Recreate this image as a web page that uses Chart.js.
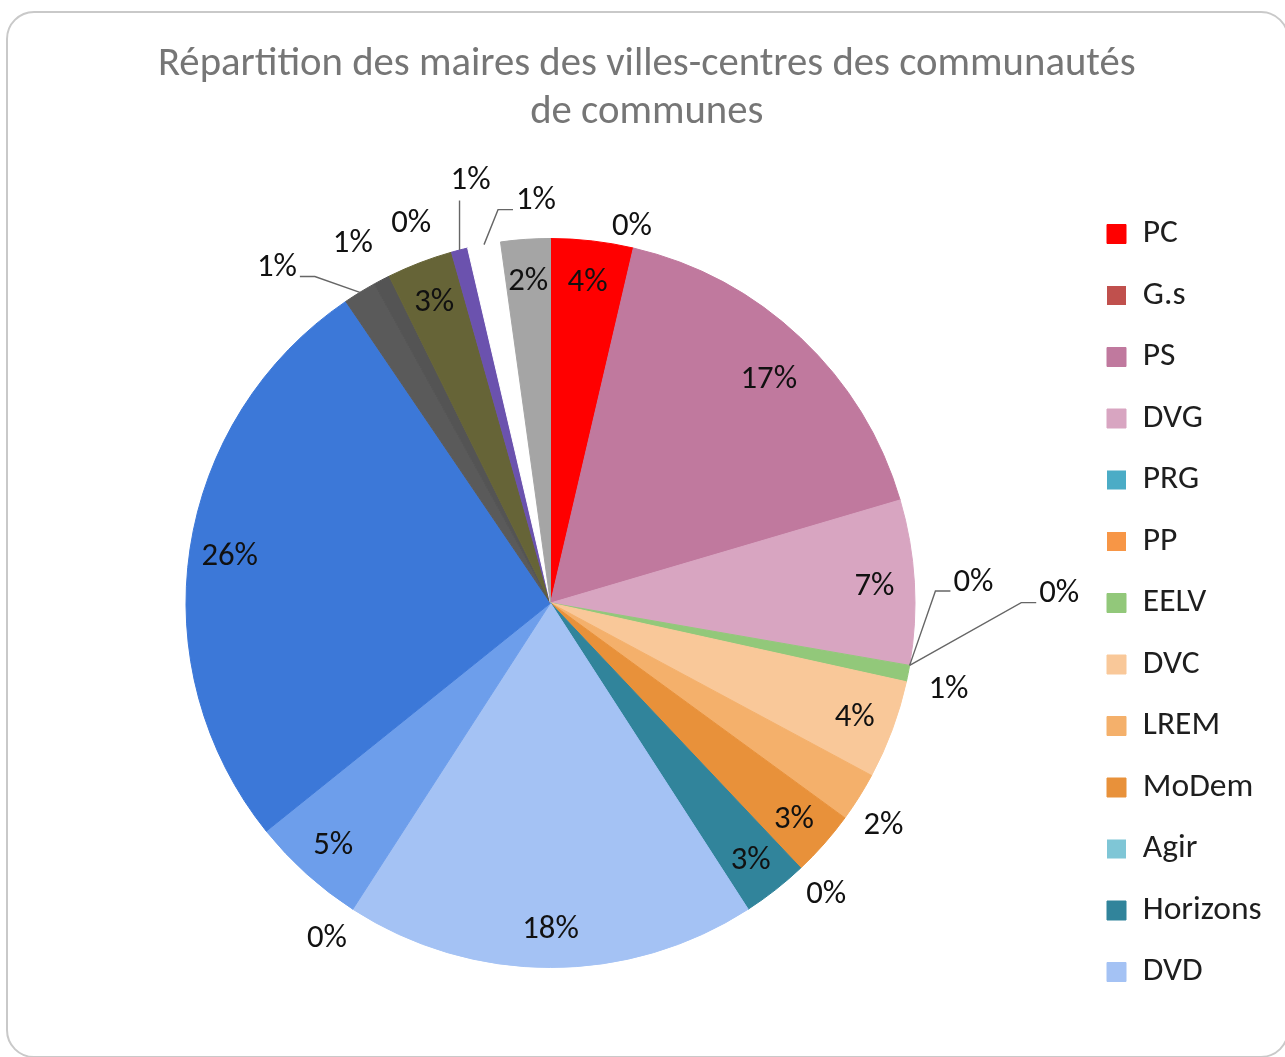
<!DOCTYPE html>
<html>
<head>
<meta charset="utf-8">
<script src="https://cdn.jsdelivr.net/npm/chart.js@4.4.1/dist/chart.umd.min.js"></script>
<style>
  html, body { margin: 0; padding: 0; background: #ffffff; overflow: hidden; width: 1285px; height: 1057px; }
  #card { position: absolute; left: 6px; top: 11px; width: 1283px; height: 1047px; box-sizing: border-box;
          border: 2px solid #c9c9c9; border-radius: 28px; background: #ffffff; }
  #wrap { position: absolute; left: 0; top: 0; width: 1285px; height: 1057px; }
</style>
</head>
<body>
<div id="card"></div>
<div id="wrap"><canvas id="chart" width="1285" height="1057"></canvas></div>
<script>
// ---------------- data ----------------
const titleLines = ['Répartition des maires des villes-centres des communautés', 'de communes'];
const parties = ['PC', 'G.s', 'PS', 'DVG', 'PRG', 'PP', 'EELV', 'DVC', 'LREM', 'MoDem', 'Agir', 'Horizons', 'DVD',
                 'UC', 'UDI', 'LR', 'DLF', 'RN', 'EXD', 'DIV', 'REG', 'SE', 'NC'];
const mayors = [5, 0, 23, 10, 0, 0, 1, 6, 3, 4, 0, 4, 25, 0, 7, 36, 2, 1, 0, 4, 1, 2, 3];
const legendCount = 13; // entries visible in the (cropped) legend

// ---------------- styles ----------------
const sliceColors = ['#FF0000', '#C0504D', '#C0799E', '#D8A5C1', '#4BACC6', '#F79646', '#92C87A', '#F9C899',
                     '#F4B06B', '#E8913A', '#7FC6D6', '#31849B', '#A4C2F4', '#9FC5E8', '#6D9EEB', '#3C78D8',
                     '#5A5A5A', '#545454', '#7F7F7F', '#666437', '#6B52AE', '#FFFFFF', '#A5A5A5'];
// label placement: [angle offset (deg) from slice middle, radius factor, leader]; default is inside
const labelPlacement = {
  1: [-1.0, 1.063],
  2: [0.65, 0.862],
  4: [-12.96, 1.162, 'elbow'],
  5: [-11.14, 1.396, 'elbow'],
  6: [0.8, 1.116],
  8: [1.34, 1.096],
  10: [-0.24, 1.097],
  13: [1.0, 1.101],
  16: [-7.5, 1.192, 'elbow'],
  17: [-1.09, 1.130],
  18: [6.22, 1.114],
  20: [3.79, 1.185, 'vertical'],
  21: [8.46, 1.110, 'elbow']
};
const defaultPlacement = [0, 0.89];

const FAMILY = "Carlito, Lato, 'Noto Sans', sans-serif";
const W = 1285, H = 1057;

// fit font sizes to the reference text widths
const mctx = document.createElement('canvas').getContext('2d');
function textW(text, size) { mctx.font = size + 'px ' + FAMILY; return mctx.measureText(text).width; }
function fitSize(text, target) { return 100 * target / textW(text, 100); }
const titleSize = fitSize(titleLines[0], 978);
const legendSize = fitSize('Horizons', 119);
const labelSize = fitSize('18%', 56.6);

// layout numbers
const pieCx = 550.5;
const rowStep = 61.5;
const boxSize = 19;
const legPad = rowStep - Math.max(legendSize, boxSize);
const boxX = 1107;
const legendLeft = boxX - legPad;
const maxLegText = Math.max(...parties.slice(0, legendCount).map(t => textW(t, legendSize)));
const legendWidth = legPad + boxSize + legendSize / 2 + maxLegText + 10;
const padRight = W - legendLeft - legendWidth;
const padLeft = 2 * pieCx - legendLeft;
const firstRowTop = 234 - Math.max(legendSize, boxSize) / 2;
const colH = legendCount * rowStep;
const legTitleH = 2 * firstRowTop - legPad - H + colH;

const sliceLabelPlugin = {
  id: 'sliceLabels',
  afterDatasetsDraw(chart) {
    const ctx = chart.ctx;
    const meta = chart.getDatasetMeta(0);
    const vals = chart.data.datasets[0].data;
    const total = vals.reduce((a, b) => a + b, 0);
    ctx.save();
    ctx.font = labelSize + 'px ' + FAMILY;
    ctx.textAlign = 'center';
    ctx.textBaseline = 'alphabetic';
    const capH = ctx.measureText('0').actualBoundingBoxAscent;
    meta.data.forEach((arc, i) => {
      const p = arc.getProps(['x', 'y', 'startAngle', 'endAngle', 'outerRadius'], true);
      const mid = (p.startAngle + p.endAngle) / 2;
      const txt = Math.round(vals[i] / total * 100) + '%';
      const place = labelPlacement[i] || defaultPlacement;
      const a = mid + place[0] * Math.PI / 180;
      const r = p.outerRadius * place[1];
      const lx = p.x + Math.cos(a) * r;
      const ly = p.y + Math.sin(a) * r;
      if (place[2]) {
        const ex = p.x + Math.cos(mid) * p.outerRadius;
        const ey = p.y + Math.sin(mid) * p.outerRadius;
        ctx.beginPath();
        ctx.strokeStyle = '#666666';
        ctx.lineWidth = 1.4;
        ctx.moveTo(ex, ey);
        if (place[2] === 'vertical') {
          ctx.lineTo(ex, ly + 22);
        } else {
          const hw = ctx.measureText(txt).width / 2;
          const dir = lx > ex ? -1 : 1;
          const endX = lx + dir * (hw + 3);
          const lineY = ly + 11;
          ctx.lineTo(endX + dir * 15, lineY);
          ctx.lineTo(endX, lineY);
        }
        ctx.stroke();
      }
      ctx.fillStyle = '#111111';
      ctx.fillText(txt, lx, ly + capH / 2);
    });
    ctx.restore();
  }
};

new Chart(document.getElementById('chart'), {
  type: 'pie',
  data: {
    labels: parties,
    datasets: [{
      data: mayors,
      backgroundColor: sliceColors,
      borderColor: sliceColors,
      borderWidth: (c) => (mayors[c.dataIndex] ? 1 : 0),
      hoverOffset: 0,
      hoverBorderWidth: 0,
      offset: 0
    }]
  },
  options: {
    responsive: false,
    animation: false,
    events: [],
    layout: { padding: { left: padLeft, right: padRight, top: 0, bottom: 0 } },
    plugins: {
      title: {
        display: true,
        text: titleLines,
        color: '#767676',
        font: { family: FAMILY, size: titleSize, weight: 'normal', lineHeight: 48 / titleSize },
        padding: { top: 41, bottom: 101 }
      },
      subtitle: {
        display: true,
        position: 'bottom',
        text: ' ',
        font: { family: FAMILY, size: 10, lineHeight: 1 },
        padding: { top: 0, bottom: 79 }
      },
      legend: {
        display: true,
        position: 'right',
        align: 'center',
        title: {
          display: true,
          text: ' ',
          font: { family: FAMILY, size: 10, lineHeight: 1 },
          padding: { top: legTitleH - 10, bottom: 0 }
        },
        labels: {
          boxWidth: boxSize,
          boxHeight: boxSize,
          padding: legPad,
          color: '#1e1e1e',
          font: { family: FAMILY, size: legendSize },
          filter: (item) => item.index < legendCount
        }
      },
      tooltip: { enabled: false }
    }
  },
  plugins: [sliceLabelPlugin]
});
</script>
</body>
</html>
